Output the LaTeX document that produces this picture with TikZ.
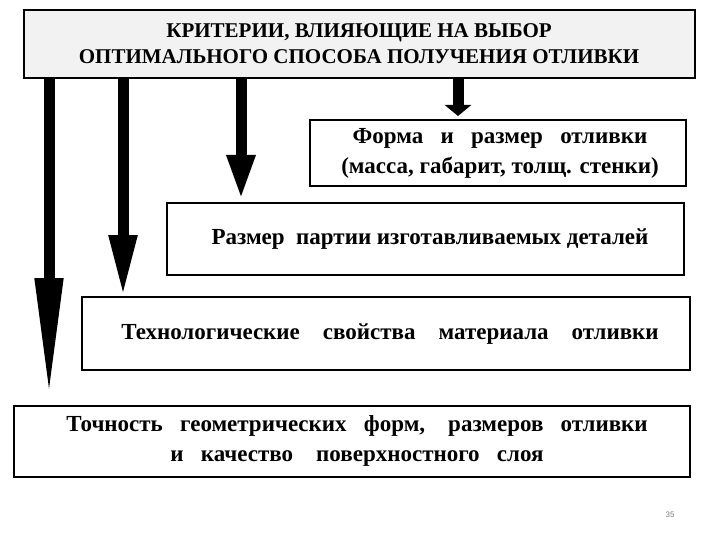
\documentclass[tikz,border=0pt]{standalone}
\usepackage{fontspec}
\setmainfont{Liberation Serif}
\newfontfamily\numfont{Liberation Sans}
\usetikzlibrary{arrows.meta}
\begin{document}
\begin{tikzpicture}[x=1pt,y=-1pt,
  boxstyle/.style={draw=black,line width=2pt,inner sep=0pt},
  lbl/.style={font=\bfseries\fontsize{21}{26}\selectfont,align=center},
  blbl/.style={font=\bfseries\fontsize{23}{30}\selectfont,align=center},
  bigarrow/.style={line width=11pt,-{Triangle[width=26pt,length=#1]}}]
\useasboundingbox (0,0) rectangle (720,540);
\fill[white] (0,0) rectangle (720,540);
\draw[boxstyle,fill=gray!10] (24,10) rectangle (695,78);
\node[lbl] (top) at (359,44) {КРИТЕРИИ, ВЛИЯЮЩИЕ НА ВЫБОР\\ОПТИМАЛЬНОГО СПОСОБА ПОЛУЧЕНИЯ ОТЛИВКИ};
\draw[boxstyle] (310,120) rectangle (686,186);
\node[blbl] (b1) at (500,153) {Форма\ \ \ и\ \ \ размер\ \ \ отливки\\(масса, габарит, толщ. стенки)};
\draw[boxstyle] (167,203) rectangle (684,275);
\node[blbl] (b2) at (430,239) {Размер\ \ партии изготавливаемых деталей};
\draw[boxstyle] (82,297) rectangle (690,370);
\node[blbl] (b3) at (390,334) {Технологические\ \ \ \ свойства\ \ \ \ материала\ \ \ \ отливки};
\draw[boxstyle] (14,406) rectangle (690,477);
\node[blbl] (b4) at (357,441) {Точность\ \ \ геометрических\ \ \ форм,\ \ \ \ размеров\ \ \ отливки\\и\ \ \ качество\ \ \ \ поверхностного\ \ \ слоя};
\node[font=\numfont\fontsize{8}{10}\selectfont,text=gray] (pg) at (670,515) {35};
\coordinate (s1) at (49,78); \coordinate (e1) at (49,398);
\coordinate (s2) at (123,78); \coordinate (e2) at (123,297);
\coordinate (s3) at (241,78); \coordinate (e3) at (241,200);
\coordinate (s4) at (458,78); \coordinate (e4) at (458,116);
\draw[bigarrow=120pt] (s1) -- (e1);
\draw[bigarrow=62pt] (s2) -- (e2);
\draw[bigarrow=45pt] (s3) -- (e3);
\draw[bigarrow=11pt] (s4) -- (e4);
\end{tikzpicture}
\end{document}
